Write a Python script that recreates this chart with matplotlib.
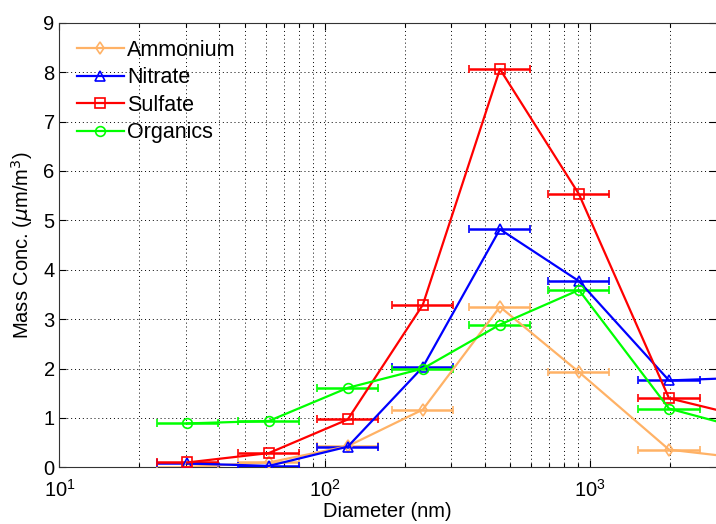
import numpy as np
import matplotlib
matplotlib.use('Agg')
import matplotlib.pyplot as plt

plt.rcParams['font.family'] = ['Liberation Sans', 'DejaVu Sans']

# particle diameter bins (nm) and horizontal bar edges
diameter = [30.3, 61.5, 122, 234, 457, 907, 1982, 4000]
bin_lo = [23.3, 47.2, 93.6, 179.6, 350.7, 696, 1521, 3070]
bin_hi = [39.5, 80.1, 159, 305, 595, 1182, 2583, 5212]

# mass concentrations (ug/m3)
ammonium = [0.01, 0.10, 0.43, 1.17, 3.25, 1.93, 0.36, 0.17]
nitrate = [0.08, 0.03, 0.42, 2.03, 4.82, 3.77, 1.76, 1.82]
sulfate = [0.10, 0.29, 0.97, 3.29, 8.06, 5.53, 1.40, 1.00]
organics = [0.89, 0.94, 1.61, 2.00, 2.89, 3.59, 1.19, 0.75]

series = [
    ('Ammonium', ammonium, '#FFB266', 'd'),
    ('Nitrate', nitrate, '#0000FF', '^'),
    ('Sulfate', sulfate, '#FF0000', 's'),
    ('Organics', organics, '#00FF00', 'o'),
]

fig = plt.figure(figsize=(7.16, 5.24), dpi=100)
ax = fig.add_axes([0.0831, 0.108, 0.9169, 0.8487])

x = np.array(diameter)
xerr = [x - np.array(bin_lo), np.array(bin_hi) - x]

handles = []
labels = []
for name, vals, color, marker in series:
    eb = ax.errorbar(x, vals, xerr=xerr, color=color, marker=marker,
                     markersize=7 if marker != 'd' else 6,
                     markerfacecolor='none', markeredgecolor=color,
                     markeredgewidth=1.2, linewidth=1.6, elinewidth=1.8,
                     capsize=3, capthick=1.6, zorder=3)
    handles.append(eb[0])
    labels.append(name)

ax.set_xscale('log')
ax.set_xlim(10, 2980)
ax.set_ylim(0, 9)
ax.set_yticks(range(0, 10))

ax.grid(True, which='major', axis='both', linestyle=(0, (1, 3)),
        color='black', linewidth=0.7)
ax.grid(True, which='minor', axis='x', linestyle=(0, (1, 3)),
        color='black', linewidth=0.7)
ax.set_axisbelow(True)

ax.tick_params(which='both', direction='in', top=True, right=True,
               labelsize=14.5, width=0.8)
ax.tick_params(which='major', length=5)
ax.tick_params(which='minor', length=3)
ax.tick_params(axis='x', which='major', pad=8)
ax.spines['right'].set_visible(False)
for s in ['left', 'top', 'bottom']:
    ax.spines[s].set_color('#333333')

ax.set_xlabel('Diameter (nm)', fontsize=14.5, labelpad=1)
ax.set_ylabel('Mass Conc. ($\\mu$m/m$^3$)', fontsize=14.5, labelpad=6)

ax.legend(handles, labels, loc='upper left', frameon=False, fontsize=15.5,
          handlelength=2.2, handletextpad=0.15, labelspacing=0.3,
          borderaxespad=0.4)

fig.savefig('out.png', dpi=100)
